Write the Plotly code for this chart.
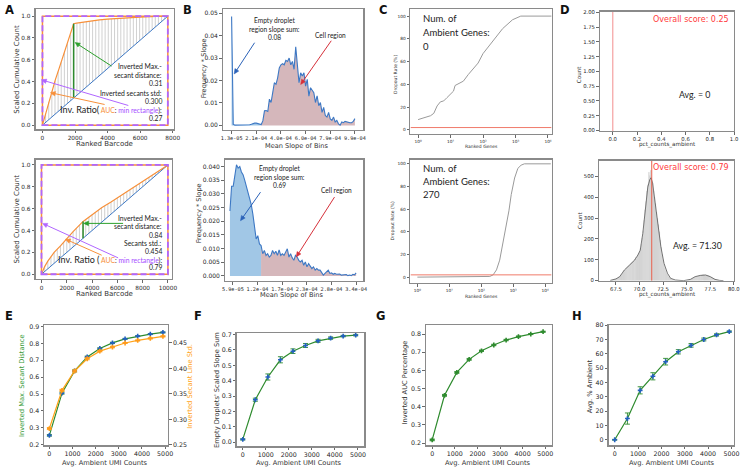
import numpy as np
import plotly.graph_objects as go

W, H = 748, 471

# ---------------- data ----------------
# A (top) knee plot
a1_barcode = [0, 150, 300, 545, 800, 1000, 1250, 1500, 1750, 1915, 2100, 2500, 3000, 3500, 4000, 5000, 6000, 7000, 7700]
a1_scaled = [0, 0.08, 0.17, 0.30, 0.42, 0.51, 0.62, 0.73, 0.84, 0.93, 0.935, 0.945, 0.955, 0.965, 0.972, 0.983, 0.991, 0.997, 1.0]
a1_knee = 1915
a1_ticks = [0, 2000, 4000, 6000, 8000]
# A (bottom)
a2_barcode = [0, 250, 500, 1000, 1500, 1900, 2500, 3290, 4000, 4780, 5500, 6500, 7390, 8000, 9000, 10000]
a2_scaled = [0, 0.07, 0.12, 0.20, 0.26, 0.315, 0.39, 0.483, 0.545, 0.61, 0.66, 0.735, 0.80, 0.85, 0.925, 1.0]
a2_knee = 3290
a2_ticks = [0, 2000, 4000, 6000, 8000, 10000]

# B (top) frequency*slope per bin
b1_start, b1_step = 1.3e-5, 1.3027e-5
b1_vals = [0.0485, 0.0005, 0.0001, 0.0001, 0.0, 0.0, 0.0001, 0.0001, 0.0001, 0.0002, 0.0002, 0.0003, 0.0005, 0.0008, 0.001,
           0.001, 0.0008, 0.0006, 0.0004, 0.002, 0.0065, 0.0066, 0.0062, 0.0117, 0.0102, 0.0146, 0.019, 0.0183, 0.0212, 0.0256,
           0.027, 0.0275, 0.027, 0.029, 0.0285, 0.030, 0.027, 0.0285, 0.025, 0.035, 0.0263, 0.019, 0.0234, 0.022, 0.0234,
           0.0175, 0.0205, 0.013, 0.0168, 0.0154, 0.0146, 0.0102, 0.0132, 0.0088, 0.0102, 0.0058, 0.008, 0.0044, 0.0037, 0.0058,
           0.0029, 0.0022, 0.0037, 0.0015, 0.0022, 0.0007, 0.0001, 0.0015, 0.0012, 0.0018, 0.0015, 0.0015, 0.0012, 0.0012, 0.0018, 0.003]
b1_split = 18
b1_ticks = [1.3e-5, 2.08e-4, 4.04e-4, 5.99e-4, 7.94e-4, 9.9e-4]
b1_ticktext = ['1.3e-05', '2.1e-04', '4.0e-04', '6.0e-04', '7.9e-04', '9.9e-04']
# B (bottom)
b2_start, b2_step = 5.23e-5, 3.737e-6
b2_vals = [0.0237, 0.0328, 0.0328, 0.037, 0.0406, 0.0394, 0.0400, 0.038, 0.037, 0.035, 0.0328, 0.031, 0.0286, 0.0261, 0.0225,
           0.0183, 0.0135, 0.0147, 0.0117, 0.0111, 0.0081, 0.0093, 0.0075, 0.0081, 0.0069, 0.0075, 0.0093, 0.0081, 0.0090, 0.0075,
           0.0095, 0.0075, 0.0081, 0.0075, 0.0087, 0.0099, 0.0069, 0.0081, 0.0066, 0.0057, 0.0075, 0.0069, 0.0057, 0.0051, 0.0057,
           0.0039, 0.0051, 0.0033, 0.0045, 0.0033, 0.0027, 0.0033, 0.0021, 0.0027, 0.0021, 0.0021, 0.0009, 0.0003, 0.0009, 0.0015,
           0.0021, 0.0009, 0.0011, 0.0006, 0.0009, 0.0006, 0.0006, 0.0007, 0.0003, 0.0004, 0.0003, 0.0005, 0.0001, 0.0003, 0.0001,
           0.0006, 0.0004, 0.0011]
b2_split = 19
b2_ticks = [5.9e-5, 1.152e-4, 1.714e-4, 2.276e-4, 2.838e-4, 3.4e-4]
b2_ticktext = ['5.9e-05', '1.2e-04', '1.7e-04', '2.3e-04', '2.8e-04', '3.4e-04']

# C dropout curves
c1_genes = [1, 1.52, 2.42, 3.05, 3.85, 4.86, 6.14, 7.75, 9.78, 12.3, 13.8, 19.7, 24.8, 35.1, 49.7, 70.4, 99.7, 159, 253, 402, 810, 1450, 13000]
c1_drop = [9, 10.4, 12.4, 14.5, 21, 24.6, 25.4, 28.3, 31, 34, 39, 41, 42.8, 48.6, 54, 58.7, 67, 74.6, 81.8, 89, 96.8, 100, 100]
c2_genes = [1, 164, 185, 235, 299, 377, 479, 610, 733, 868, 1104, 1395, 1759, 2231, 15000]
c2_drop = [0, 0, 0.6, 2, 6.4, 15, 29.6, 47, 58.5, 73, 87.5, 96, 98.8, 100, 100]
c_threshold = 2
c_ticks = [1, 10, 100, 1000, 10000]
c_ticktext = ['10\u2070', '10\u00b9', '10\u00b2', '10\u00b3', '10\u2074']

# D histogram
d2_counts = [2, 3, 4, 5, 7, 8, 10, 13, 16, 19,
             24, 30, 36, 44, 50, 55, 60, 65, 70, 74,
             78, 84, 88, 92, 97, 102, 112, 105, 120, 130,
             140, 155, 175, 205, 240, 290, 340, 380, 430, 460,
             520, 505, 530, 480, 470, 430, 400, 370, 330, 300,
             270, 235, 195, 160, 125, 100, 80, 62, 48, 36,
             28, 20, 14, 10, 7, 5, 3, 2, 1, 1,
             0, 0, 0, 0, 0, 0, 0, 0, 1, 1,
             1, 2, 3, 4, 6, 8, 10, 13, 15, 18,
             18, 20, 22, 23, 25, 26, 27, 28, 28, 27,
             27, 26, 26, 24, 22, 19, 17, 14, 12, 9,
             7, 5, 4, 3, 2, 1]
d2_bin_start, d2_bin_w = 67.0, 0.1
d2_kde_x = [66.9, 67.05, 67.5, 67.9, 68.4, 68.96, 69.5, 69.83, 70.08, 70.35, 70.6, 70.88, 71.09, 71.23, 71.4, 71.65, 71.93,
            72.27, 72.6, 72.97, 73.3, 73.8, 74.3, 74.7, 75.4, 75.9, 76.45, 77.0, 77.5, 78.0, 78.5, 78.9]
d2_kde_y = [1, 3, 8, 19, 51, 75, 99, 123, 146, 226, 338, 449, 484, 494, 465, 385, 290, 162, 83, 35, 11, 3, 1, 0, 6, 19,
            25, 27, 19, 6, 1, 0]
d1_avg, d2_avg = 0.0, 71.3

# E-H sweep
umi = [0, 545, 1090, 1635, 2180, 2725, 3270, 3815, 4360, 4905]
umi_ticks = [0, 1000, 2000, 3000, 4000, 5000]
e_secant = [0.255, 0.505, 0.637, 0.72, 0.77, 0.803, 0.827, 0.843, 0.855, 0.865]
e_secant_err = [0.005, 0.006, 0.006, 0.005, 0.004, 0.004, 0.003, 0.003, 0.003, 0.003]
e_std = [0.282, 0.357, 0.395, 0.419, 0.434, 0.442, 0.45, 0.455, 0.459, 0.463]
e_std_err = [0.002, 0.002, 0.002, 0.002, 0.0015, 0.0015, 0.001, 0.001, 0.001, 0.001]
f_sum = [0.018, 0.276, 0.424, 0.536, 0.592, 0.629, 0.659, 0.677, 0.690, 0.696]
f_err = [0.004, 0.01, 0.02, 0.02, 0.015, 0.013, 0.01, 0.008, 0.005, 0.005]
g_auc = [0.218, 0.463, 0.589, 0.661, 0.708, 0.74, 0.767, 0.786, 0.80, 0.813]
g_err = [0.005, 0.005, 0.005, 0.005, 0.004, 0.004, 0.004, 0.003, 0.003, 0.003]
h_amb = [0.0, 14.8, 34.5, 44.3, 54.5, 61.4, 65.9, 70.0, 73.2, 75.5]
h_err = [0.3, 3.9, 2.5, 2.5, 2.3, 1.5, 1.3, 1.0, 0.8, 0.5]

# ---------------- styles ----------------
ORANGE = '#f7903a'
BLUE = '#3d78c4'
PURPLE = '#b066ff'
GREEN = '#2e8b2e'
GREY_SPINE = '#8a8a8a'
TXT = '#222222'

layout = {}
ann = []
shapes = []
traces = []


def ref(n):
    return ('x' if n == 1 else f'x{n}'), ('y' if n == 1 else f'y{n}')


def add_axes(n, box, xr, yr, tick=6.0, xkw=None, ykw=None):
    l, t, r, b = box
    xa, ya = ref(n)
    base = dict(showline=True, mirror=True, linecolor=GREY_SPINE, linewidth=1.4, ticks='outside', ticklen=2.5,
                tickwidth=0.8, tickcolor='#444', showgrid=False, zeroline=False, tickangle=0,
                ticklabeloverflow='allow',
                tickfont=dict(family='DejaVu Sans', size=tick, color='#262626'))
    X = dict(base, domain=[l / W, r / W], range=xr, anchor=ya)
    Y = dict(base, domain=[1 - b / H, 1 - t / H], range=yr, anchor=xa)
    X.update(xkw or {})
    Y.update(ykw or {})
    layout['xaxis' if n == 1 else f'xaxis{n}'] = X
    layout['yaxis' if n == 1 else f'yaxis{n}'] = Y


def txt(x, y, s, size, color=TXT, xanchor='center', family='Lato', angle=0):
    ann.append(dict(x=x / W, y=1 - y / H, xref='paper', yref='paper', text=s, showarrow=False,
                    xanchor=xanchor, yanchor='middle', textangle=angle, borderpad=0,
                    font=dict(size=size, color=color, family=family)))


def P(x, y):
    return x / W, 1 - y / H


def arrow(hx, hy, tx, ty, color, width=1.0, head=5.0, half=2.3):
    d = np.hypot(hx - tx, hy - ty)
    ux, uy = (hx - tx) / d, (hy - ty) / d
    bx, by = hx - ux * head, hy - uy * head
    x0, y0 = P(tx, ty)
    x1, y1 = P(bx + ux * 0.5, by + uy * 0.5)
    shapes.append(dict(type='line', xref='paper', yref='paper', x0=x0, y0=y0, x1=x1, y1=y1,
                       line=dict(color=color, width=width)))
    pts = [(hx, hy), (bx - uy * half, by + ux * half), (bx + uy * half, by - ux * half)]
    pp = [P(*p) for p in pts]
    path = 'M %.5f,%.5f L %.5f,%.5f L %.5f,%.5f Z' % (pp[0][0], pp[0][1], pp[1][0], pp[1][1], pp[2][0], pp[2][1])
    shapes.append(dict(type='path', xref='paper', yref='paper', path=path, fillcolor=color,
                       line=dict(color=color, width=0.5)))


def line(n, x, y, color, width=1.0, dash=None, **kw):
    xa, ya = ref(n)
    traces.append(go.Scatter(x=x, y=y, mode='lines', line=dict(color=color, width=width, dash=dash),
                             xaxis=xa, yaxis=ya, showlegend=False, hoverinfo='skip', **kw))


# ---------------- A panels ----------------
def knee_panel(n, box, xr, yr, bx, by, knee, ticks):
    add_axes(n, box, xr, yr, tick=5.8,
             xkw=dict(tickvals=ticks, ticktext=[str(t) for t in ticks]),
             ykw=dict(dtick=0.2, tickformat='.1f'))
    xmax = bx[-1]
    hx, hy = [], []
    for xv in np.linspace(0, xmax, 41):
        hx += [xv, xv, None]
        hy += [xv / xmax, float(np.interp(xv, bx, by)), None]
    line(n, hx, hy, '#b0b0b0', 0.6)
    line(n, [0, xmax], [0, 1], BLUE, 1.0)
    line(n, bx, by, ORANGE, 1.2)
    line(n, [knee, knee], [knee / xmax, float(np.interp(knee, bx, by))], GREEN, 1.5)
    xa, ya = ref(n)
    shapes.append(dict(type='rect', xref=xa, yref=ya, x0=0, y0=0, x1=xmax, y1=1,
                       line=dict(color=ORANGE, width=1.5)))
    shapes.append(dict(type='rect', xref=xa, yref=ya, x0=0, y0=0, x1=xmax, y1=1,
                       line=dict(color=PURPLE, width=1.8, dash='6px,3px')))


knee_panel(1, (33, 5, 173, 127), [-423, 8060], [-0.036, 1.066], a1_barcode, a1_scaled, a1_knee, a1_ticks)
knee_panel(5, (33, 158, 171, 279), [-470, 10300], [-0.042, 1.048], a2_barcode, a2_scaled, a2_knee, a2_ticks)

inv = ("<span style='font-size:9px'>Inv. Ratio(</span> <span style='color:%s'>AUC</span>: "
       "<span style='color:%s'>min rectangle</span>):") % (ORANGE, '#a64dff')
for y, s in [(63, 'Inverted Max.-'), (72, 'secant distance:'), (80.5, '0.31'),
             (90, 'Inverted secants std:'), (98.5, '0.300'), (107, inv), (115.5, '0.27')]:
    txt(162, y, s, 6.8, xanchor='right')
inv2 = inv.replace('Ratio(', 'Ratio (')
for y, s in [(217, 'Inverted Max.-'), (225.7, 'secant distance:'), (234, '0.84'),
             (242.3, 'Secants std.:'), (250.7, '0.454'), (259, inv2), (267.3, '0.79')]:
    txt(162, y, s, 6.8, xanchor='right')

arrow(73, 39, 110, 63, '#2ca02c')
arrow(39, 77, 127, 103, PURPLE)
arrow(48, 90, 103, 102, ORANGE)
arrow(81.7, 222.7, 121.7, 222.7, '#2ca02c')
arrow(40, 222.7, 116.7, 257.7, PURPLE)
arrow(63.3, 238.7, 100, 255, ORANGE)

for (x, y, s, a) in [(14, 66, 'Scaled Cumulative Count', -90), (103, 142.5, 'Ranked Barcode', 0),
                     (14, 218, 'Scaled Cumulative Count', -90), (103, 294, 'Ranked Barcode', 0)]:
    txt(x, y, s, 7, family='DejaVu Sans', angle=a, color='#333')


# ---------------- B panels ----------------
def slope_panel(n, box, xr, yr, start, step, vals, split, tv, tt, ydtick, yfmt):
    add_axes(n, box, xr, yr, tick=6.0,
             xkw=dict(tickvals=tv, ticktext=tt, tickfont=dict(family='DejaVu Sans Mono', size=5.2, color='#262626')),
             ykw=dict(dtick=ydtick, tickformat=yfmt))
    xs = [start + i * step for i in range(len(vals))]
    line(n, xs[:split + 1], vals[:split + 1], 'rgba(0,0,0,0)', 0.1, fill='tozeroy', fillcolor='rgba(130,180,222,0.75)')
    line(n, xs[split:], vals[split:], 'rgba(0,0,0,0)', 0.1, fill='tozeroy', fillcolor='rgba(190,145,150,0.65)')
    line(n, xs, vals, BLUE, 1.1)


slope_panel(2, (223, 5, 365, 128), [-5.5e-5, 1.055e-3], [-0.0021, 0.0519], b1_start, b1_step, b1_vals, b1_split,
            b1_ticks, b1_ticktext, 0.01, '.2f')
slope_panel(6, (225, 158, 365, 281), [4.1e-5, 3.56e-4], [-0.0018, 0.0425], b2_start, b2_step, b2_vals, b2_split,
            b2_ticks, b2_ticktext, 0.005, '.3f')

for y, s in [(16, 'Empty droplet'), (25, 'region slope sum:'), (33.5, '0.08')]:
    txt(275, y, s, 6.6)
txt(332, 31.7, 'Cell region', 6.6)
for y, s in [(166.7, 'Empty droplet'), (175.5, 'region slope sum:'), (184, '0.69')]:
    txt(280, y, s, 6.6)
txt(338, 188.3, 'Cell region', 6.6)
arrow(234.3, 71, 255, 39.3, '#2b62b8')
arrow(301.7, 81.7, 332.7, 37.3, '#d6303a')
arrow(240.7, 220, 261, 191, '#2b62b8')
arrow(297.3, 256.7, 336, 196, '#d6303a')

for (x, y, s, a) in [(204, 65, 'Frequency * Slope', -90), (297, 144.5, 'Mean Slope of Bins', 0),
                     (198, 212, 'Frequency * Slope', -90), (292, 295.5, 'Mean Slope of Bins', 0)]:
    txt(x, y, s, 6.6, family='DejaVu Sans', angle=a, color='#333')


# ---------------- C panels ----------------
def dropout_panel(n, box, xr, yr, gx, gy):
    add_axes(n, box, xr, yr, tick=4.3,
             xkw=dict(type='log', tickvals=c_ticks, ticktext=c_ticktext),
             ykw=dict(tickvals=[0, 20, 40, 60, 80, 100]))
    line(n, gx, gy, '#9a9a9a', 1.0)
    line(n, [10 ** xr[0], 10 ** xr[1]], [c_threshold, c_threshold], '#f07a6a', 1.0)


dropout_panel(3, (413, 5, 556, 132), [-0.234, 4.11], [-3.7, 106.3], c1_genes, c1_drop)
dropout_panel(7, (413, 158, 556, 283), [-0.216, 4.2], [-5, 103.7], c2_genes, c2_drop)
for y, s in [(15, 'Num. of'), (29.3, 'Ambient Genes:'), (42.7, '0')]:
    txt(424.3, y, s, 9.5, xanchor='left')
for y, s in [(166.7, 'Num. of'), (180, 'Ambient Genes:'), (193.3, '270')]:
    txt(424.3, y, s, 9.5, xanchor='left')
for (x, y, s, a) in [(397.7, 71.7, 'Dropout Rate (%)', -90), (485, 145, 'Ranked Genes', 0),
                     (395, 220, 'Dropout Rate (%)', -90), (485, 296.7, 'Ranked Genes', 0)]:
    txt(x, y, s, 4.5, family='DejaVu Sans', angle=a, color='#333')

# ---------------- D panels ----------------
add_axes(4, (605, 8, 741, 129), [-0.106, 1.0], [-0.01, 2.01], tick=5.3,
         xkw=dict(tickvals=[0, 0.2, 0.4, 0.6, 0.8, 1.0], tickformat='.1f'),
         ykw=dict(dtick=0.25, tickformat='.2f'))
line(4, [d1_avg, d1_avg], [-0.01, 2.01], '#f4a0a0', 1.2)

add_axes(8, (604, 159, 741, 281), [65.7, 80.03], [-1, 576], tick=5.3,
         xkw=dict(tickvals=[67.5, 70, 72.5, 75, 77.5, 80], tickformat='.1f'),
         ykw=dict(tickvals=[0, 100, 200, 300, 400, 500]))
hist_x = [round(d2_bin_start + d2_bin_w * i, 2) for i in range(len(d2_counts))]
traces.append(go.Bar(x=hist_x, y=d2_counts, width=d2_bin_w, marker=dict(color='#c4c4c4', line=dict(color='#e6e6e6', width=0.3)),
                     xaxis='x8', yaxis='y8', showlegend=False, hoverinfo='skip'))
line(8, d2_kde_x, d2_kde_y, '#555555', 0.8)
line(8, [d2_avg, d2_avg], [-1, 576], '#e8604c', 1.0)

txt(737.3, 16, 'Overall score: 0.25', 8, color='#ff3b3b', xanchor='right', family='DejaVu Sans')
txt(701, 91.7, 'Avg. = 0', 8.8)
txt(737.3, 166, 'Overall score: 0.79', 8, color='#ff3b3b', xanchor='right', family='DejaVu Sans')
txt(704, 245, 'Avg. = 71.30', 8.8)
for (x, y, s, a) in [(583.3, 71.7, 'Count', -90), (674, 143, 'pct_counts_ambient', 0),
                     (585, 220, 'Count', -90), (673.3, 294.8, 'pct_counts_ambient', 0)]:
    txt(x, y, s, 5.6, family='DejaVu Sans', angle=a, color='#333')


# ---------------- E-H panels ----------------
def series(n, x, y, err, lc, mc, yaxis=None):
    xa, ya = ref(n)
    traces.append(go.Scatter(x=x, y=y, mode='lines+markers', line=dict(color=lc, width=1.2),
                             marker=dict(symbol='cross', size=4, color=mc),
                             error_y=dict(type='data', array=err, color=lc, thickness=0.9, width=2.5),
                             xaxis=xa, yaxis=yaxis or ya, showlegend=False, hoverinfo='skip'))


xt = dict(tickvals=umi_ticks, ticktext=[str(t) for t in umi_ticks], ticklen=2)
add_axes(9, (42, 326, 167, 448), [-213, 5114], [0.196, 0.908], tick=6.3, xkw=xt,
         ykw=dict(dtick=0.1, tickformat='.1f'))
layout['yaxis13'] = dict(domain=layout['yaxis9']['domain'], range=[0.249, 0.485], overlaying='y9', side='right',
                         anchor='x9', showline=True, linecolor=GREY_SPINE, linewidth=1.4, ticks='outside', ticklen=2.5,
                         tickwidth=0.8, tickcolor='#444', showgrid=False, zeroline=False,
                         tickvals=[0.25, 0.30, 0.35, 0.40, 0.45], tickformat='.2f',
                         tickfont=dict(family='DejaVu Sans', size=6.3, color='#262626'))
series(9, umi, e_secant, e_secant_err, GREEN, '#2360c0')
series(9, umi, e_std, e_std_err, '#ffa31a', '#ff9a1a', yaxis='y13')

add_axes(10, (237, 334, 366, 449), [-258, 5270], [-0.027, 0.71], tick=6.3, xkw=xt,
         ykw=dict(dtick=0.1, tickformat='.1f'))
series(10, umi, f_sum, f_err, GREEN, '#2360c0')

add_axes(11, (429, 326, 556, 448), [-262, 5280], [0.188, 0.849], tick=6.3, xkw=xt,
         ykw=dict(dtick=0.1, tickformat='.1f'))
series(11, umi, g_auc, g_err, GREEN, GREEN)

add_axes(12, (614, 326, 741, 448), [-253, 5112], [-3.9, 80], tick=6.3, xkw=xt,
         ykw=dict(dtick=10))
series(12, umi, h_amb, h_err, GREEN, '#2360c0')

txt(20, 387, 'Inverted Max. Secant Distance', 6.7, color='#3a9a3a', family='DejaVu Sans', angle=-90)
txt(190, 388, 'Inverted Secant Line Std.', 6.7, color='#ffa31a', family='DejaVu Sans', angle=-90)
txt(216.7, 392, "Empty Droplets' Scaled Slope Sum", 6.7, color='#333', family='DejaVu Sans', angle=-90)
txt(407.7, 384, 'Inverted AUC Percentage', 6.7, color='#333', family='DejaVu Sans', angle=-90)
txt(595, 388, 'Avg. % Ambient', 6.7, color='#333', family='DejaVu Sans', angle=-90)
for x in [103, 300, 491.7, 678.3]:
    txt(x, 465.5, 'Avg. Ambient UMI Counts', 6.7, color='#333', family='DejaVu Sans')

# panel letters
for x, y, s in [(7, 6, 'A'), (187, 6, 'B'), (385, 6, 'C'), (570, 6, 'D'),
                (6, 317, 'E'), (198, 317, 'F'), (383, 317, 'G'), (582, 317, 'H')]:
    txt(x, y, '<b>%s</b>' % s, 11.5, color='#111', family='DejaVu Sans')

fig = go.Figure(data=traces)
fig.update_layout(**layout)
fig.update_layout(width=W, height=H, autosize=False, margin=dict(l=0, r=0, t=0, b=0),
                  paper_bgcolor='white', plot_bgcolor='white', showlegend=False,
                  annotations=ann, shapes=shapes, bargap=0)
fig.write_html('out.html', config={'displayModeBar': False, 'staticPlot': True},
               post_script="document.body.style.margin='0px';document.body.style.overflow='hidden';")
